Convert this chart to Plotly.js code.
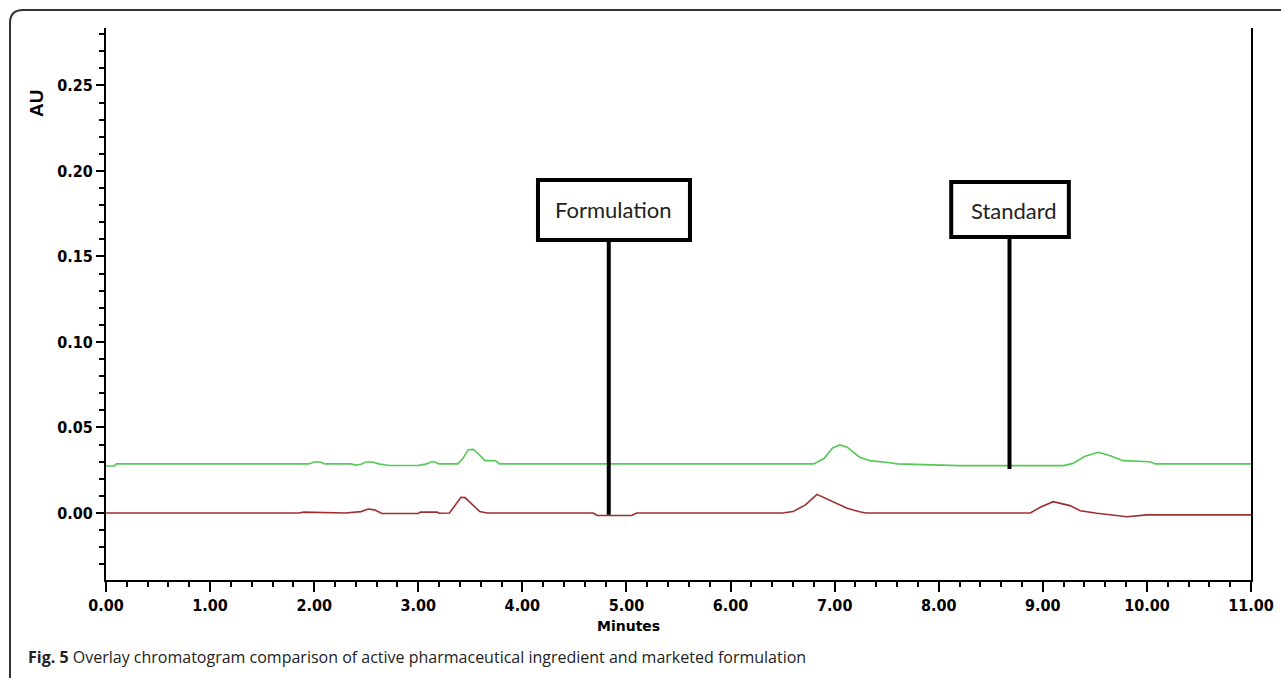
<!DOCTYPE html>
<html>
<head>
<meta charset="utf-8">
<script src="https://cdn.plot.ly/plotly-3.0.1.min.js"></script>
<style>html,body{margin:0;padding:0;background:#fff;}#chart{width:1281px;height:678px;}</style>
</head>
<body>
<div id="chart"></div>
<script>
// Standard (green) trace
const stdTime = [0, 0.08, 0.1, 1.95, 2.0, 2.06, 2.1, 2.35, 2.4, 2.45, 2.5, 2.56, 2.62, 2.72, 3.0, 3.08, 3.12, 3.16, 3.2, 3.38, 3.43, 3.48, 3.53, 3.58, 3.64, 3.74, 3.78, 6.0, 6.8, 6.9, 6.98, 7.05, 7.12, 7.24, 7.34, 7.53, 7.6, 8.2, 9.2, 9.29, 9.4, 9.53, 9.65, 9.77, 10.03, 10.08, 11.0];
const stdAU = [0.0275, 0.0275, 0.0287, 0.0287, 0.0298, 0.0298, 0.0287, 0.0287, 0.0280, 0.0285, 0.0298, 0.0298, 0.0287, 0.0278, 0.0278, 0.0287, 0.0298, 0.0298, 0.0287, 0.0287, 0.0320, 0.0370, 0.0372, 0.0345, 0.0306, 0.0306, 0.0287, 0.0287, 0.0287, 0.0320, 0.0380, 0.0398, 0.0385, 0.0326, 0.0306, 0.0294, 0.0287, 0.0277, 0.0277, 0.0290, 0.0330, 0.0355, 0.0335, 0.0306, 0.0300, 0.0287, 0.0287];
// Formulation (red) trace
const frmTime = [0, 1.85, 1.9, 2.3, 2.45, 2.52, 2.58, 2.65, 3.0, 3.02, 3.18, 3.2, 3.3, 3.35, 3.41, 3.45, 3.5, 3.59, 3.66, 4.68, 4.72, 5.05, 5.1, 6.5, 6.6, 6.72, 6.83, 6.96, 7.12, 7.24, 7.3, 8.88, 8.98, 9.1, 9.26, 9.36, 9.52, 9.81, 9.91, 10.0, 11.0];
const frmAU = [0, 0, 0.0005, 0, 0.0008, 0.0023, 0.0018, -0.0003, -0.0003, 0.0005, 0.0005, -0.0002, 0, 0.004, 0.0092, 0.0090, 0.0060, 0.0008, 0, 0, -0.0015, -0.0015, 0, 0, 0.0008, 0.0047, 0.0109, 0.0072, 0.0027, 0.0007, 0, 0, 0.0035, 0.0066, 0.0043, 0.0013, -0.0002, -0.0022, -0.0016, -0.0011, -0.0011];

const yTickVals = [0, 0.05, 0.10, 0.15, 0.20, 0.25];
const xTickVals = [0, 1, 2, 3, 4, 5, 6, 7, 8, 9, 10, 11];

const labels = ["Formulation", "Standard"];
const caption = "<b>Fig. 5</b> Overlay chromatogram comparison of active pharmaceutical ingredient and marketed formulation";

// pixel -> paper helpers for decorations
const L = 106, R = 30, T = 28, B = 98, W = 1281, H = 678;
const pw = W - L - R, ph = H - T - B;
const px = x => (x - L) / pw;
const py = y => (H - B - y) / ph;

const tickFont = {family: "DejaVu Sans Condensed, DejaVu Sans", size: 16, color: "#000", weight: "bold"};

const traces = [
  {x: stdTime, y: stdAU, type: "scatter", mode: "lines", line: {color: "#55c955", width: 1.6}, hoverinfo: "x+y", name: "Standard"},
  {x: frmTime, y: frmAU, type: "scatter", mode: "lines", line: {color: "#9e2f2f", width: 1.6}, hoverinfo: "x+y", name: "Formulation"}
];

const framePath = `M ${px(10)} ${py(700)} L ${px(10)} ${py(23)} Q ${px(10)} ${py(10)} ${px(23)} ${py(10)} L ${px(1300)} ${py(10)}`;

const layout = {
  width: W, height: H,
  margin: {l: L, r: R, t: T, b: B, pad: 0},
  paper_bgcolor: "#fff", plot_bgcolor: "#fff",
  showlegend: false,
  xaxis: {
    range: [0, 11], showgrid: false, zeroline: false,
    showline: true, linecolor: "#000", linewidth: 2, mirror: false,
    tickmode: "array", tickvals: xTickVals, tickformat: ".2f",
    ticks: "outside", ticklen: 10, tickwidth: 2, tickcolor: "#000",
    minor: {dtick: 0.2, ticks: "outside", ticklen: 5, tickwidth: 2, tickcolor: "#000", showgrid: false},
    tickfont: tickFont, title: {text: ""}
  },
  yaxis: {
    range: [-0.0392, 0.2836], showgrid: false, zeroline: false,
    showline: true, linecolor: "#000", linewidth: 2, mirror: true,
    tickmode: "array", tickvals: yTickVals, tickformat: ".2f",
    ticks: "outside", ticklen: 8, tickwidth: 2, tickcolor: "#000",
    minor: {dtick: 0.01, tick0: 0, ticks: "outside", ticklen: 5, tickwidth: 2, tickcolor: "#000", showgrid: false},
    tickfont: tickFont, title: {text: ""}
  },
  shapes: [
    {type: "path", xref: "paper", yref: "paper", path: framePath, line: {color: "#333", width: 2}},
    // Formulation callout
    {type: "line", xref: "x", yref: "y", x0: 4.83, x1: 4.83, y0: -0.001, y1: 0.1596, line: {color: "#000", width: 4}},
    {type: "rect", xref: "x", yref: "y", x0: 4.15, x1: 5.61, y0: 0.1596, y1: 0.1947, fillcolor: "#fff", line: {color: "#000", width: 4}},
    // Standard callout
    {type: "line", xref: "x", yref: "y", x0: 8.68, x1: 8.68, y0: 0.0257, y1: 0.1614, line: {color: "#000", width: 4}},
    {type: "rect", xref: "x", yref: "y", x0: 8.12, x1: 9.25, y0: 0.1614, y1: 0.1936, fillcolor: "#fff", line: {color: "#000", width: 4}}
  ],
  annotations: [
    {xref: "x", yref: "y", x: 4.88, y: 0.1775, xanchor: "center", yanchor: "middle", text: labels[0], showarrow: false, font: {family: "Lato, Open Sans", size: 22, color: "#222"}},
    {xref: "x", yref: "y", x: 8.72, y: 0.1770, xanchor: "center", yanchor: "middle", text: labels[1], showarrow: false, font: {family: "Lato, Open Sans", size: 22, color: "#222"}},
    {xref: "paper", yref: "paper", x: px(628), y: py(626), xanchor: "center", yanchor: "middle", text: "Minutes", showarrow: false, font: {family: "DejaVu Sans", size: 14, color: "#000", weight: "bold"}},
    {xref: "paper", yref: "paper", x: px(37), y: py(104), xanchor: "center", yanchor: "middle", text: "AU", textangle: -90, showarrow: false, font: {family: "Liberation Sans, Arial", size: 19, color: "#000", weight: "bold"}},
    {xref: "paper", yref: "paper", x: px(26), y: py(657), xanchor: "left", yanchor: "middle", text: caption, showarrow: false, font: {family: "Open Sans", size: 16, color: "#222"}}
  ]
};

Plotly.newPlot("chart", traces, layout, {displayModeBar: false, staticPlot: true});
</script>
</body>
</html>
